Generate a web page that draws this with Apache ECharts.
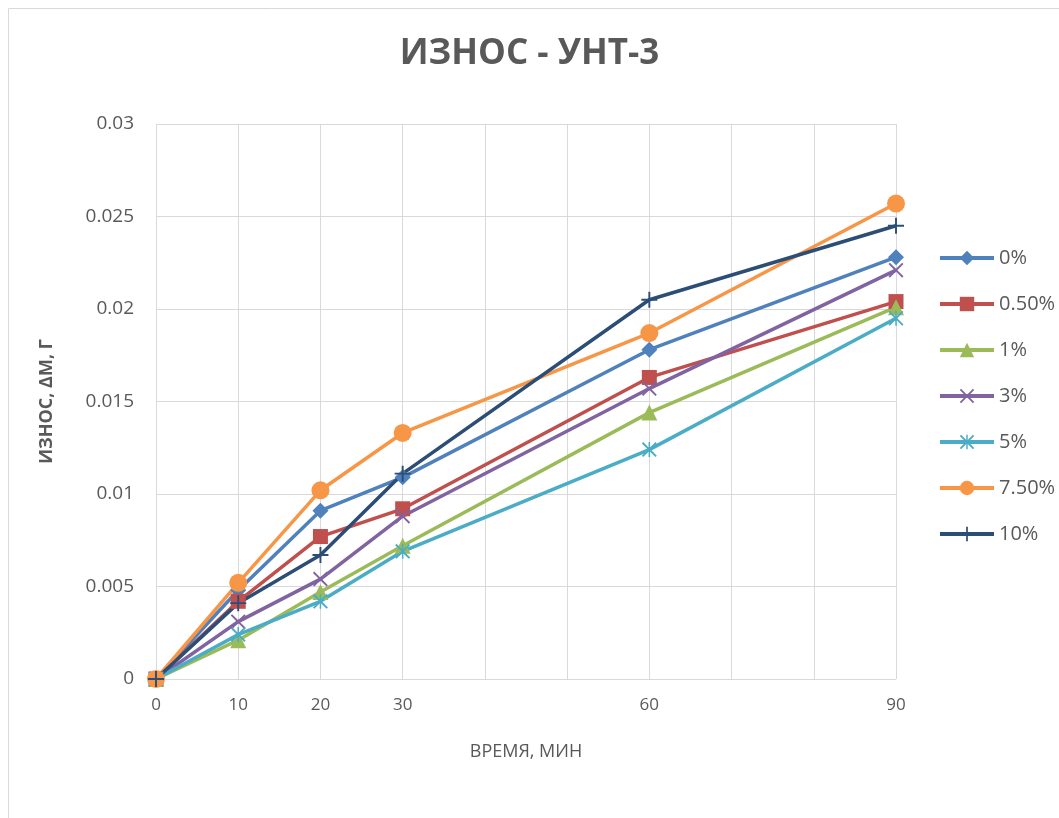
<!DOCTYPE html>
<html>
<head>
<meta charset="utf-8">
<script src="https://cdn.jsdelivr.net/npm/echarts@6/dist/echarts.min.js"></script>
<style>
    html, body { margin: 0; padding: 0; background: #fff; }
    #chart { width: 1059px; height: 818px; }
</style>
</head>
<body>
<div id="chart"></div>
<script>
// time, minutes
const times = [0, 10, 20, 30, 60, 90];
const xLabels = [0, 10, 20, 30, 60, 90];
const seriesNames = ['0%', '0.50%', '1%', '3%', '5%', '7.50%', '10%'];

const wear0 = [0, 0.0048, 0.0091, 0.0109, 0.0178, 0.0228];
const wear05 = [0, 0.0042, 0.0077, 0.0092, 0.0163, 0.0204];
const wear1 = [0, 0.0021, 0.0047, 0.0072, 0.0144, 0.0201];
const wear3 = [0, 0.0031, 0.0054, 0.0088, 0.0157, 0.0221];
const wear5 = [0, 0.0024, 0.0042, 0.0069, 0.0124, 0.0195];
const wear75 = [0, 0.0052, 0.0102, 0.0133, 0.0187, 0.0257];
const wear10 = [0, 0.0041, 0.0067, 0.0111, 0.0205, 0.0245];

const colors = ['#4F81BD', '#C0504D', '#9BBB59', '#8064A2', '#4BACC6', '#F79646', '#2C4D75'];

const xMark = 'path://M0,0.9 L0.9,0 L5,4.1 L9.1,0 L10,0.9 L5.9,5 L10,9.1 L9.1,10 L5,5.9 L0.9,10 L0,9.1 L4.1,5 Z';
const starMark = 'path://M0,0.9 L0.9,0 L5,4.1 L9.1,0 L10,0.9 L5.9,5 L10,9.1 L9.1,10 L5,5.9 L0.9,10 L0,9.1 L4.1,5 Z M4.5,0 L5.5,0 L5.5,10 L4.5,10 Z';
const plusMark = 'path://M4.4,0 L5.6,0 L5.6,4.4 L10,4.4 L10,5.6 L5.6,5.6 L5.6,10 L4.4,10 L4.4,5.6 L0,5.6 L0,4.4 L4.4,4.4 Z';

const symbols = [
    ['diamond', 16],
    ['rect', 15],
    ['triangle', 16],
    [xMark, 15],
    [starMark, 15],
    ['circle', 18],
    [plusMark, 16]
];
const values = [wear0, wear05, wear1, wear3, wear5, wear75, wear10];

const font = '"Open Sans", "Noto Sans", sans-serif';
const chart = echarts.init(document.getElementById('chart'));

chart.setOption({
    color: colors,
    animation: false,
    title: {
        text: 'ИЗНОС - УНТ-3',
        left: 'center',
        top: 32,
        textStyle: {
            fontFamily: font,
            fontSize: 35,
            fontWeight: 'bold',
            color: '#595959'
        }
    },
    graphic: [{
        type: 'rect',
        left: 6,
        top: 6,
        silent: true,
        shape: { width: 1100, height: 900 },
        style: { fill: null, stroke: '#d9d9d9', lineWidth: 1 }
    }],
    legend: {
        orient: 'vertical',
        left: 938,
        top: 248,
        padding: 0,
        itemWidth: 54,
        itemHeight: 18,
        itemGap: 26,
        lineStyle: { width: 4 },
        textStyle: { fontFamily: font, fontSize: 20, color: '#595959' },
        data: seriesNames
    },
    grid: {
        left: 156,
        right: 163,
        top: 124,
        bottom: 139
    },
    xAxis: {
        type: 'value',
        min: 0,
        max: 90,
        interval: 10,
        name: 'ВРЕМЯ, МИН',
        nameLocation: 'middle',
        nameGap: 64,
        nameTextStyle: { fontFamily: font, fontSize: 18, color: '#595959' },
        axisLine: { show: false },
        axisTick: { show: false },
        splitLine: { lineStyle: { color: '#d9d9d9', width: 1 } },
        axisLabel: {
            fontFamily: font,
            fontSize: 17,
            color: '#595959',
            margin: 18,
            formatter: function (v) {
                return xLabels.indexOf(v) >= 0 ? String(v) : '';
            }
        }
    },
    yAxis: {
        type: 'value',
        min: 0,
        max: 0.03,
        interval: 0.005,
        name: 'ИЗНОС, ΔМ, Г',
        nameLocation: 'middle',
        nameGap: 100,
        nameTextStyle: { fontFamily: font, fontSize: 18, fontWeight: 'bold', color: '#595959' },
        axisLine: { show: false },
        axisTick: { show: false },
        splitLine: { lineStyle: { color: '#d9d9d9', width: 1 } },
        axisLabel: {
            fontFamily: font,
            fontSize: 19,
            color: '#595959',
            margin: 22
        }
    },
    series: values.map(function (vals, i) {
        return {
            name: seriesNames[i],
            type: 'line',
            symbol: symbols[i][0],
            symbolSize: symbols[i][1],
            showAllSymbol: true,
            lineStyle: { width: 3.5, color: colors[i] },
            itemStyle: { color: colors[i] },
            data: times.map(function (t, k) { return [t, vals[k]]; })
        };
    })
});
</script>
</body>
</html>
